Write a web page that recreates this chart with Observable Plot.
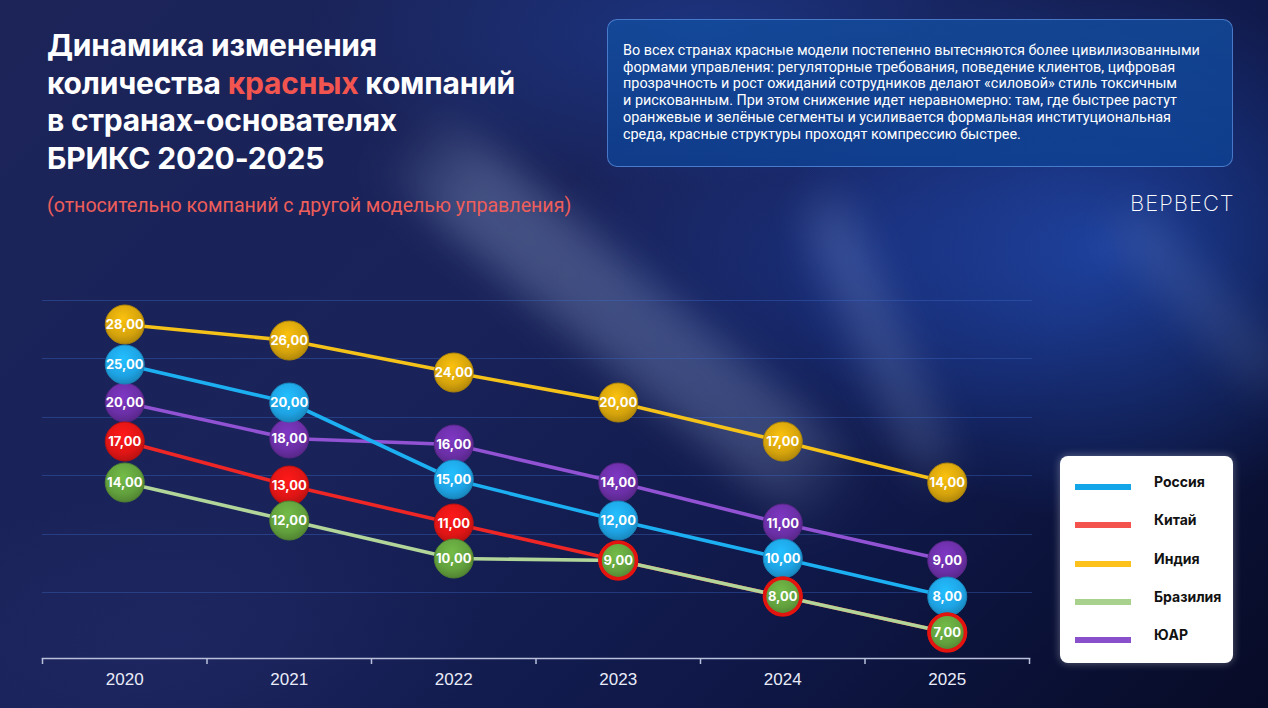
<!DOCTYPE html>
<html><head><meta charset="utf-8">
<script src="https://cdn.jsdelivr.net/npm/d3@7"></script>
<script src="https://cdn.jsdelivr.net/npm/@observablehq/plot@0.6"></script>
<style>
html,body{margin:0;padding:0;}
body{width:1268px;height:708px;overflow:hidden;position:relative;font-family:Inter,"Noto Sans",sans-serif;
 background:linear-gradient(135deg,#1c2458 0%,#19235a 40%,#0f1848 70%,#070b26 100%);}
.layer{position:absolute;pointer-events:none;}
#glowR{left:0;top:0;width:1268px;height:708px;background:
 radial-gradient(ellipse 430px 360px at 1100px 250px, rgba(38,88,205,0.62), rgba(38,88,205,0) 75%),
 radial-gradient(ellipse 360px 260px at 840px 260px, rgba(35,75,190,0.35), rgba(35,75,190,0) 80%),
 radial-gradient(ellipse 520px 210px at 700px 30px, rgba(30,70,170,0.45), rgba(30,70,170,0) 75%),
 radial-gradient(ellipse 380px 180px at 180px 640px, rgba(40,45,110,0.35), rgba(40,45,110,0) 80%);}
.streak{background:linear-gradient(to bottom, rgba(175,195,235,0) 0%, rgba(175,195,235,0.28) 15%, rgba(175,195,235,0.24) 85%, rgba(175,195,235,0) 100%);filter:blur(18px);}
#s1{left:580px;top:30px;width:90px;height:580px;transform:rotate(-50deg);}
#s2{left:855px;top:170px;width:50px;height:340px;transform:rotate(-23deg);opacity:.7}
#s3{left:1175px;top:170px;width:50px;height:260px;transform:rotate(-43deg);opacity:.45}
#grid{left:42px;top:300px;width:990px;height:296px;background:repeating-linear-gradient(to bottom, rgba(60,105,200,0.38) 0px, rgba(60,105,200,0.38) 1px, rgba(0,0,0,0) 1px, rgba(0,0,0,0) 58.4px);}
#title{position:absolute;left:47px;top:27px;color:#fff;font:700 30px/37.5px Inter,sans-serif;letter-spacing:-0.2px;}
#title .red{color:#f2554f}
#sub{position:absolute;left:47px;top:194px;color:#ee5e5a;font:400 19.6px Roboto,sans-serif;}
#note{position:absolute;left:607px;top:19px;width:626px;height:148px;box-sizing:border-box;border:1px solid rgba(110,160,240,.6);border-radius:10px;
 background:linear-gradient(180deg, rgba(18,78,160,.78), rgba(14,66,148,.78));padding:23px 15px;color:#fff;font:400 14.4px/16.7px Roboto,sans-serif;}
#logo{position:absolute;left:1130px;top:190px;color:#fff;font:200 22px Inter,sans-serif;letter-spacing:1px;}
#chart{position:absolute;left:0;top:0;}
#legend{position:absolute;left:1060px;top:456px;width:173px;height:207px;background:#fff;border-radius:8px;box-shadow:0 0 8px rgba(255,255,255,.35);}
.sw{position:absolute;left:15px;width:56px;height:6px;}
.lt{position:absolute;left:94px;font:700 14px Inter,sans-serif;color:#111;white-space:nowrap;}
</style></head>
<body>
<div class="layer" id="glowR"></div>
<div class="layer streak" id="s1"></div>
<div class="layer streak" id="s2"></div>
<div class="layer streak" id="s3"></div>
<div class="layer" id="grid"></div>
<div id="title">Динамика изменения<br>количества <span class="red">красных</span> компаний<br>в странах-основателях<br>БРИКС 2020-2025</div>
<div id="sub">(относительно компаний с другой моделью управления)</div>
<div id="note">Во всех странах красные модели постепенно вытесняются более цивилизованными<br>формами управления: регуляторные требования, поведение клиентов, цифровая<br>прозрачность и рост ожиданий сотрудников делают «силовой» стиль токсичным<br>и рискованным. При этом снижение идет неравномерно: там, где быстрее растут<br>оранжевые и зелёные сегменты и усиливается формальная институциональная<br>среда, красные структуры проходят компрессию быстрее.</div>
<div id="logo">ВЕРВЕСТ</div>
<div id="chart"></div>
<div id="legend"></div>
<script>
// ---- data ----
const years = [2020, 2021, 2022, 2023, 2024, 2025];
const countries = ["Россия", "Китай", "Индия", "Бразилия", "ЮАР"];
const russia = [25, 20, 15, 12, 10, 8];
const china = [17, 13, 11, 9, 8, 7];
const india = [28, 26, 24, 20, 17, 14];
const brazil = [14, 12, 10, 9, 8, 7];
const southAfrica = [20, 18, 16, 14, 11, 9];
const lineColors = ["#1cb0f2", "#ee2626", "#f5c21a", "#b2d69a", "#9152d3"];
const dotColors = ["#1ea3e4", "#e01515", "#d6a40c", "#62a03d", "#6b2fa6"];
const legendColors = ["#12a6e8", "#f4524d", "#fcc11a", "#a9d18e", "#8a4fcb"];

const series = [russia, china, india, brazil, southAfrica];
const rows = countries.flatMap((c, i) => series[i].map((v, j) => ({country: c, ci: i, year: years[j], value: v})));
const sharedWithBrazil = d => d.ci === 1 && brazil[years.indexOf(d.year)] === d.value;
const brazilShared = d => d.ci === 3 && china[years.indexOf(d.year)] === d.value;
const fmt = v => v.toFixed(2).replace(".", ",");

// non-linear value warp (the reference spreads close values apart so circles do not collide)
const warp = d3.scaleLinear()
  .domain([7, 8, 9, 10, 11, 12, 13, 14, 15, 16, 17, 18, 20, 24, 25, 26, 28])
  .range([0, 36, 72, 74, 109, 112, 147, 150, 153, 188, 191, 194, 230, 260, 268, 292, 308]);

const drawOrder = [2, 4, 0, 1, 3]; // Индия, ЮАР, Россия, Китай, Бразилия
const dotOrder = [4, 2, 0, 1, 3];

function defs() {
  const d = d3.create("svg:defs");
  dotColors.forEach((c, i) => {
    const g = d.append("radialGradient").attr("id", "g" + i).attr("cx", "45%").attr("cy", "35%").attr("r", "68%");
    g.append("stop").attr("offset", "0%").attr("stop-color", d3.color(c).brighter(0.45));
    g.append("stop").attr("offset", "65%").attr("stop-color", c);
    g.append("stop").attr("offset", "100%").attr("stop-color", d3.color(c).darker(0.6));
  });
  return d.node();
}

const marks = [defs];
for (const i of drawOrder) {
  marks.push(Plot.line(rows.filter(d => d.ci === i), {x: "year", y: "value", stroke: lineColors[i], strokeWidth: 3.6}));
}
for (const i of dotOrder) {
  const pts = rows.filter(d => d.ci === i);
  if (i === 3) {
    marks.push(Plot.dot(pts.filter(d => !brazilShared(d)), {x: "year", y: "value", r: 19.5, fill: "url(#g3)", stroke: d3.color(dotColors[3]).darker(0.6).formatHex(), strokeWidth: 1}));
    marks.push(Plot.dot(pts.filter(brazilShared), {x: "year", y: "value", r: 18.2, fill: "url(#g3)", stroke: "#e3140f", strokeWidth: 3.6}));
  } else {
    marks.push(Plot.dot(pts, {x: "year", y: "value", r: 19.5, fill: `url(#g${i})`, stroke: d3.color(dotColors[i]).darker(0.6).formatHex(), strokeWidth: 1}));
  }
}
marks.push(Plot.text(rows.filter(d => !sharedWithBrazil(d)), {
  x: "year", y: "value", text: d => fmt(d.value), fill: "white",
  fontSize: 13, fontWeight: 700, fontFamily: "Inter, sans-serif"
}));
const edges = years.map(y => y - 0.5).concat([years[years.length - 1] + 0.5]);
marks.push(Plot.frame({anchor: "bottom", stroke: "#b9c0dc", strokeWidth: 1.5}));
marks.push(Plot.axisX(edges, {tickSize: 6, tickFormat: () => "", stroke: "#b9c0dc", strokeWidth: 1.5, label: null}));
marks.push(Plot.axisX(years, {tickSize: 0, tickPadding: 14, tickFormat: d => String(d), fill: "#e9ecf8", fontSize: 17, fontFamily: "Liberation Sans, Arial, sans-serif", label: null}));

const chart = Plot.plot({
  width: 1268, height: 708,
  marginLeft: 42, marginRight: 239, marginTop: 0, marginBottom: 50,
  style: {background: "transparent", overflow: "visible", color: "white"},
  x: {type: "linear", domain: [edges[0], edges[edges.length - 1]], axis: null},
  y: {axis: null, transform: warp, range: [632, 324]},
  marks
});
document.getElementById("chart").appendChild(chart);

// legend
const lg = document.getElementById("legend");
const swY = [31, 69, 108, 146, 184];
countries.forEach((c, i) => {
  const sw = document.createElement("div");
  sw.className = "sw"; sw.style.top = (swY[i] - 3) + "px"; sw.style.background = legendColors[i];
  lg.appendChild(sw);
  const t = document.createElement("div");
  t.className = "lt"; t.textContent = c; t.style.top = (swY[i] - 14) + "px";
  lg.appendChild(t);
});
</script>
</body></html>
